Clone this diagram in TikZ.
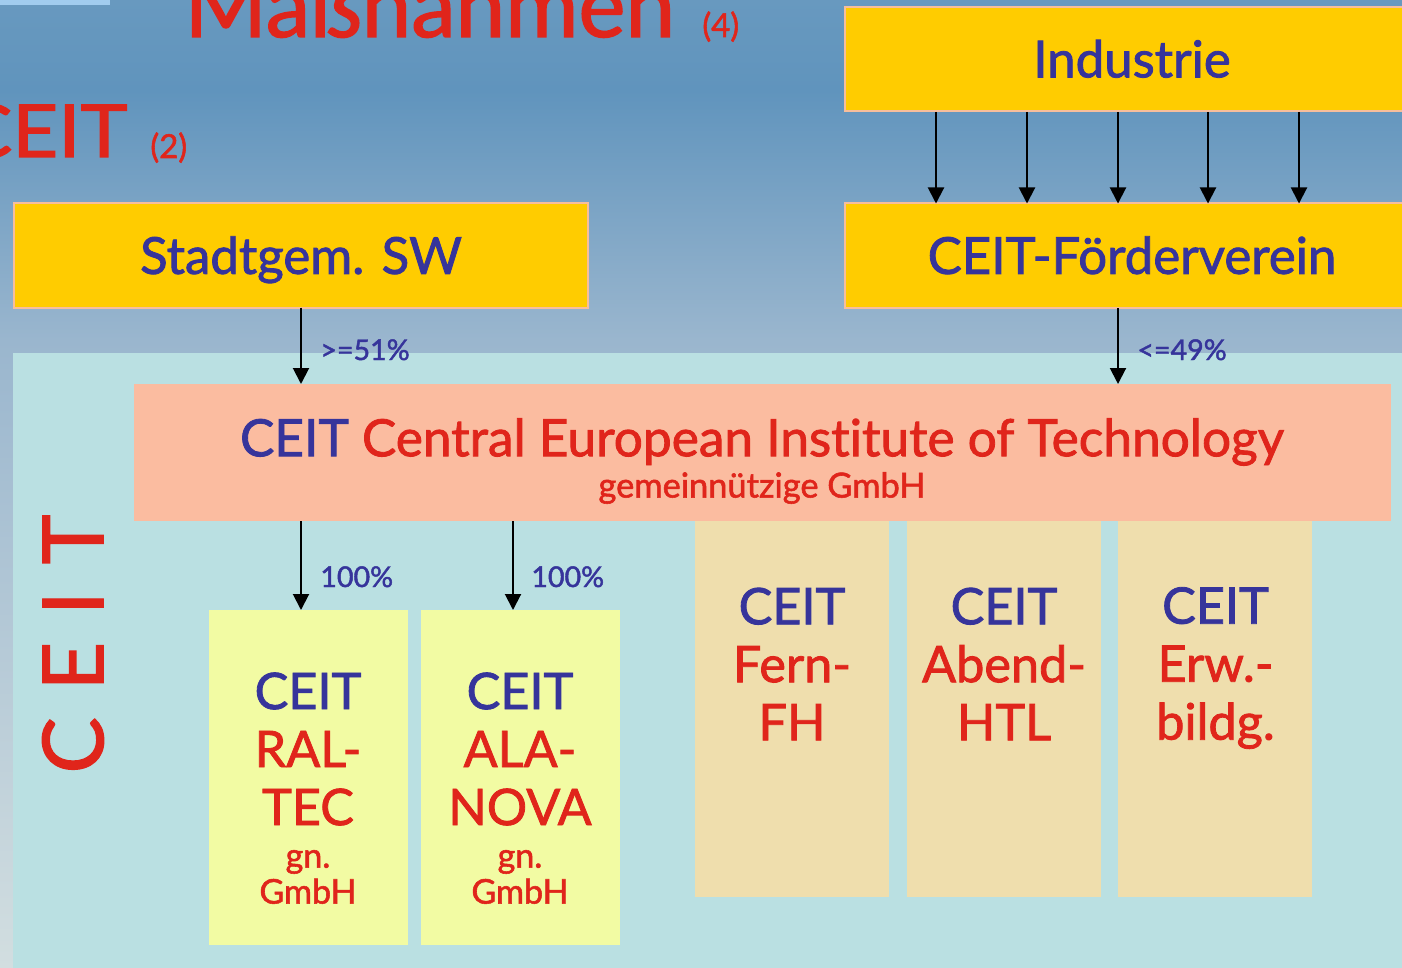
\documentclass[tikz,border=0pt]{standalone}
\usepackage{fontspec}
\setmainfont{Lato}[FakeBold=1.2,Ligatures=NoCommon,AutoFakeBold=false]
\newfontfamily\heavy{Lato}[Ligatures=NoCommon,RawFeature={embolden=1.6}]
\usetikzlibrary{arrows.meta}
\definecolor{cblue}{HTML}{36349B}
\definecolor{cred}{HTML}{E0251B}
\definecolor{cgold}{HTML}{FFCC00}
\definecolor{cedge}{HTML}{F7BE9C}
\definecolor{cpanel}{HTML}{BAE0E2}
\definecolor{csalmon}{HTML}{FBBCA0}
\definecolor{cyel}{HTML}{F2FBA3}
\definecolor{ctan}{HTML}{EFDEAD}
\definecolor{bgA}{HTML}{6899BF}
\definecolor{bgB}{HTML}{6094BD}
\definecolor{bgC}{HTML}{9AB6CE}
\definecolor{bgD}{HTML}{D2DEE0}
\tikzset{
 x=0.5pt,y=-0.5pt,
 box/.style={inner sep=0pt,outer sep=0pt,minimum width=#1},
 gold/.style={box=#1,fill=cgold,draw=cedge,line width=1pt,minimum height=52pt,text height=18.4pt,text depth=0pt,text=cblue,font=\heavy\fontsize{25.5}{28}\selectfont},
 sub/.style={box=#1,fill=cyel,minimum height=167.5pt},
 tanbox/.style={box=97pt,fill=ctan,minimum height=188pt},
 big/.style={align=center,inner sep=0pt,font=\heavy\fontsize{25.2}{29}\selectfont,text=cred},
 small/.style={inner sep=0pt,align=center,text=cred,font=\heavy\fontsize{17}{18}\selectfont},
 flow/.style={-{Triangle[width=8pt,length=8pt]},line width=1pt,black},
 pct/.style={inner sep=0pt,anchor=base west,text=cblue,font=\heavy\fontsize{14.3}{16}\selectfont},
 head/.style={inner sep=0pt,anchor=base west,text=cred},
}
\begin{document}
\begin{tikzpicture}
\useasboundingbox (0,0) rectangle (1402,968);
\clip (0,0) rectangle (1402,968);
\fill[top color=bgA,bottom color=bgB] (0,0) rectangle (1402,90);
\fill[top color=bgB,bottom color=bgC] (0,90) rectangle (1402,340);
\fill[top color=bgC,bottom color=bgD] (0,340) rectangle (1402,968);
\fill[cyan!30!white!90!blue] (0,0) rectangle (110,5);
\fill[cpanel] (13,353) rectangle (1420,990);

\node[head,font=\heavy\fontsize{44.5}{46}\selectfont] (t1) at (184,37) {Maßnahmen};
\node[head,font=\heavy\fontsize{16.5}{18}\selectfont] (t1n) at (702,37) {(4)};
\node[head,font=\heavy\fontsize{36.5}{40}\selectfont,anchor=base east,xscale=1.09,transform shape] (t2) at (128,157) {CEIT};
\node[head,font=\heavy\fontsize{16.5}{18}\selectfont] (t2n) at (150,158) {(2)};

\node[gold=287pt] (ind) at (1132,59) {Industrie};
\node[gold=287pt] (ford) at (1132,255.5) {CEIT-Förderverein};
\node[gold=287pt] (sw) at (301,255.5) {Stadtgem. SW};

\node[box=628.5pt,fill=csalmon,minimum height=68.5pt] (ceit) at (762.5,452.5) {};
\node[inner sep=0pt,text=cred,font=\heavy\fontsize{25.7}{28}\selectfont] (ceitT) at (762,442) {\textcolor{cblue}{CEIT} Central European Institute of Technology};
\node[small,font=\heavy\fontsize{17.2}{20}\selectfont] (ceitS) at (762,488) {gemeinnützige GmbH};

\node[sub=99.5pt] (ral) at (308.5,777.5) {};
\node[sub=99.5pt] (ala) at (520.5,777.5) {};
\node[tanbox] (fh) at (792,709) {};
\node[tanbox] (htl) at (1004,709) {};
\node[tanbox] (erw) at (1215.3,709) {};

\node[big] (ralT) at (308,749) {\textcolor{cblue}{CEIT}\\RAL-\\TEC};
\node[big] (alaT) at (520,749) {\textcolor{cblue}{CEIT}\\ALA-\\NOVA};
\node[small] (ralS) at (308,877) {gn.\\GmbH};
\node[small] (alaS) at (520,877) {gn.\\GmbH};
\node[big] (fhT) at (792,664) {\textcolor{cblue}{CEIT}\\Fern-\\FH};
\node[big] (htlT) at (1004,664) {\textcolor{cblue}{CEIT}\\Abend-\\HTL};
\node[big] (erwT) at (1215.5,668) {\textcolor{cblue}{CEIT}\\Erw.-\\bildg.};

\node[inner sep=0pt,rotate=90,text=cred,font=\heavy\fontsize{42}{46}\selectfont] (side) at (73,644) {C\hspace{13.5pt}E\hspace{13.5pt}I\hspace{13.5pt}T};

\foreach \i/\x in {1/936,2/1027,3/1118,4/1208,5/1299}{
  \coordinate (s\i) at (\x,112);
  \draw[flow] (s\i) -- (s\i |- ford.north);
}
\draw[flow] (sw.south) -- (sw.south |- ceit.north);
\coordinate (fo) at (1118,308);
\draw[flow] (fo) -- (fo |- ceit.north);
\coordinate (c1) at (301,521);
\coordinate (c2) at (513,521);
\draw[flow] (c1) -- (c1 |- ral.north);
\draw[flow] (c2) -- (c2 |- ala.north);

\node[pct] (p1) at (320,360) {>=51\%};
\node[pct] (p2) at (1137,360) {<=49\%};
\node[pct] (p3) at (320,587) {100\%};
\node[pct] (p4) at (531,587) {100\%};
\end{tikzpicture}
\end{document}
